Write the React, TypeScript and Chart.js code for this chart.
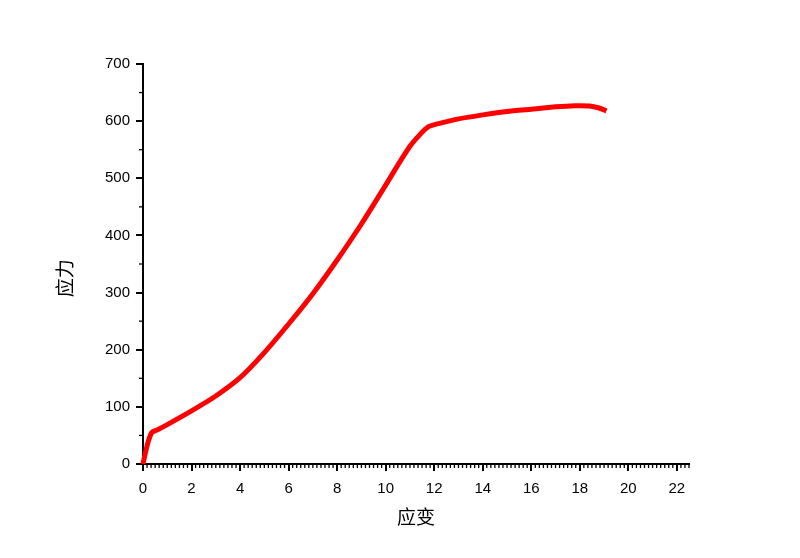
import React, { useEffect, useRef } from 'react';
import { Chart, registerables } from 'chart.js';

Chart.register(...registerables);

// Data (strain vs stress)
const strain = [0, 0.1, 0.22, 0.36, 0.6, 1, 2, 3, 4, 5, 6, 7, 8, 9, 10, 10.5, 11, 11.4, 11.75, 12.1, 12.6, 13, 14, 15, 16, 17, 17.8, 18.4, 18.8, 19.1];
const stress = [0, 20, 40, 55, 60, 69, 93, 119, 151, 195, 245, 298, 357, 420, 488, 523, 556, 576, 590, 595, 600, 604, 611, 617, 621, 625, 627, 626.5, 623, 618];

const xMin = 0;
const xMax = 22.5;
const xStep = 2;
const xMinorStep = 1 / 6;
const yMin = 0;
const yMax = 700;
const yStep = 100;
const yMinorStep = 50;

const xTitle = '应变';
const yTitle = '应力';

const tickFont = { family: 'Liberation Sans, Arial, sans-serif', size: 15 };
const titleFontFamily = '"Noto Sans CJK SC", sans-serif';

const minorTicksPlugin = {
  id: 'minorTicks',
  afterDraw(chart: any) {
    const { ctx, scales } = chart;
    const x = scales.x;
    const y = scales.y;
    ctx.save();
    ctx.strokeStyle = '#000';
    ctx.lineWidth = 1.3;
    const base = y.getPixelForValue(yMin);
    const n = Math.round((xMax - xMin) / xMinorStep);
    for (let i = 0; i <= n; i++) {
      const v = xMin + i * xMinorStep;
      if (Math.abs(v / xStep - Math.round(v / xStep)) < 1e-6) continue;
      const px = x.getPixelForValue(v);
      ctx.beginPath();
      ctx.moveTo(px, base);
      ctx.lineTo(px, base + 4);
      ctx.stroke();
    }
    const left = x.getPixelForValue(xMin);
    for (let v = yMin; v <= yMax; v += yMinorStep) {
      if (v % yStep === 0) continue;
      const py = y.getPixelForValue(v);
      ctx.beginPath();
      ctx.moveTo(left, py);
      ctx.lineTo(left - 4, py);
      ctx.stroke();
    }
    // y axis title
    ctx.fillStyle = '#000';
    ctx.font = `19px ${titleFontFamily}`;
    ctx.textAlign = 'center';
    ctx.textBaseline = 'middle';
    ctx.translate(65, y.getPixelForValue(325));
    ctx.rotate(-Math.PI / 2);
    ctx.fillText(yTitle, 0, 0);
    ctx.restore();
  },
};

export default function App() {
  const ref = useRef<HTMLCanvasElement>(null);

  useEffect(() => {
    if (!ref.current) return;
    const chart = new Chart(ref.current, {
      type: 'line',
      data: {
        datasets: [
          {
            data: strain.map((s, i) => ({ x: s, y: stress[i] })),
            borderColor: '#ff0000',
            backgroundColor: '#ff0000',
            borderWidth: 5,
            pointRadius: 0,
            tension: 0.2,
            clip: false as any,
            fill: false,
          },
        ],
      },
      options: {
        animation: false,
        responsive: false,
        maintainAspectRatio: false,
        layout: { padding: { left: 0, top: 64, right: 111, bottom: 0 } },
        plugins: { legend: { display: false }, tooltip: { enabled: false } },
        scales: {
          x: {
            type: 'linear',
            min: xMin,
            max: xMax,
            border: { display: true, color: '#000', width: 2 },
            grid: { drawOnChartArea: false, drawTicks: true, tickLength: 7, color: '#000', lineWidth: 2 },
            ticks: {
              stepSize: xStep,
              includeBounds: false,
              autoSkip: false,
              maxRotation: 0,
              color: '#000',
              font: tickFont,
              padding: 9,
            },
            title: {
              display: true,
              text: xTitle,
              color: '#000',
              font: { family: titleFontFamily, size: 19 },
              padding: { top: 0, bottom: 30 },
            },
            afterFit: (s: any) => {
              s.height = 94;
            },
          },
          y: {
            type: 'linear',
            min: yMin,
            max: yMax,
            border: { display: true, color: '#000', width: 2 },
            grid: { drawOnChartArea: false, drawTicks: true, tickLength: 7, color: '#000', lineWidth: 2 },
            ticks: {
              stepSize: yStep,
              color: '#000',
              font: tickFont,
              padding: 6,
            },
            afterFit: (s: any) => {
              s.width = 143;
            },
          },
        },
      },
      plugins: [minorTicksPlugin],
    });
    return () => chart.destroy();
  }, []);

  return (
    <div style={{ position: 'fixed', left: 0, top: 0, width: 800, height: 558, background: '#fff' }}>
      <canvas ref={ref} width={800} height={558} style={{ width: 800, height: 558, display: 'block' }} />
    </div>
  );
}
